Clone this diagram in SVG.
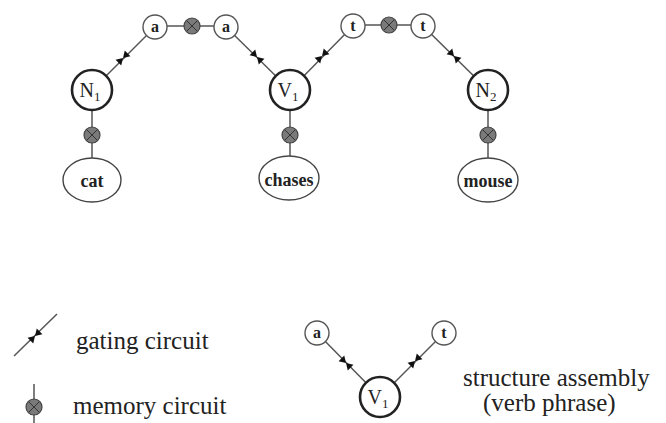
<svg xmlns="http://www.w3.org/2000/svg" width="666" height="423" viewBox="0 0 666 423">
<defs>
<style>
.ln{stroke:#555;stroke-width:1.5;fill:none}
.big{fill:#fff;stroke:#222;stroke-width:2.6}
.sm{fill:#fff;stroke:#555;stroke-width:1.4}
.ell{fill:#fff;stroke:#444;stroke-width:1.4}
.lbl{font-family:"Liberation Serif","Times New Roman",serif;fill:#222;text-anchor:middle}
.b{font-weight:bold}
.leg{font-family:"Liberation Serif","Times New Roman",serif;fill:#222;font-size:25px}
</style>
<g id="bowtie"><polygon points="-6.5,-4 0,0 -6.5,4" fill="#111"/><polygon points="6.5,-4 0,0 6.5,4" fill="#111"/></g>
<g id="mem"><circle r="8" fill="#7a7a7a" stroke="#444" stroke-width="1.2"/><path d="M-5,-5 L5,5 M-5,5 L5,-5" stroke="#333" stroke-width="1"/></g>
</defs>
<rect width="666" height="423" fill="#fff"/>
<g id="connectors">
<line class="ln" x1="92" y1="90" x2="155" y2="27"/>
<line class="ln" x1="155" y1="26" x2="226" y2="26"/>
<line class="ln" x1="226" y1="27" x2="290" y2="90"/>
<line class="ln" x1="290" y1="90" x2="353" y2="26"/>
<line class="ln" x1="353" y1="25" x2="423" y2="25"/>
<line class="ln" x1="423" y1="26" x2="488" y2="90"/>
<line class="ln" x1="92" y1="90" x2="92" y2="160"/>
<line class="ln" x1="290" y1="90" x2="290" y2="158"/>
<line class="ln" x1="488" y1="90" x2="488" y2="158"/>
<line class="ln" x1="317" y1="333" x2="380" y2="397"/>
<line class="ln" x1="380" y1="397" x2="444" y2="333"/>
<use href="#bowtie" transform="translate(123,58) rotate(-45)"/>
<use href="#bowtie" transform="translate(257,57) rotate(45)"/>
<use href="#bowtie" transform="translate(322,56) rotate(-45)"/>
<use href="#bowtie" transform="translate(454,56) rotate(45)"/>
<use href="#bowtie" transform="translate(346,363) rotate(45)"/>
<use href="#bowtie" transform="translate(415,361) rotate(-45)"/>
<use id="mem-a" href="#mem" transform="translate(192,26)"/>
<use id="mem-t" href="#mem" transform="translate(389,25)"/>
<use id="mem-cat" href="#mem" transform="translate(92,135)"/>
<use id="mem-chases" href="#mem" transform="translate(290,135)"/>
<use id="mem-mouse" href="#mem" transform="translate(488,135)"/>
</g>
<g id="node-N1"><circle class="big" cx="92" cy="90" r="20"/><text class="lbl" x="90" y="97" font-size="20">N<tspan font-size="13" dy="4">1</tspan></text></g>
<g id="node-a1"><circle class="sm" cx="155" cy="27" r="12"/><text class="lbl b" x="155" y="32" font-size="16">a</text></g>
<g id="node-a2"><circle class="sm" cx="226" cy="27" r="12"/><text class="lbl b" x="226" y="32" font-size="16">a</text></g>
<g id="node-V1"><circle class="big" cx="290" cy="90" r="20"/><text class="lbl" x="288" y="97" font-size="20">V<tspan font-size="13" dy="4">1</tspan></text></g>
<g id="node-t1"><circle class="sm" cx="353" cy="26" r="12"/><text class="lbl b" x="353" y="31" font-size="16">t</text></g>
<g id="node-t2"><circle class="sm" cx="423" cy="26" r="12"/><text class="lbl b" x="423" y="31" font-size="16">t</text></g>
<g id="node-N2"><circle class="big" cx="488" cy="90" r="20"/><text class="lbl" x="486" y="97" font-size="20">N<tspan font-size="13" dy="4">2</tspan></text></g>
<g id="node-cat"><ellipse class="ell" cx="92" cy="180" rx="29" ry="22"/><text class="lbl b" x="92" y="187" font-size="18">cat</text></g>
<g id="node-chases"><ellipse class="ell" cx="289" cy="178" rx="30" ry="22"/><text class="lbl b" x="289" y="186" font-size="18">chases</text></g>
<g id="node-mouse"><ellipse class="ell" cx="488" cy="180" rx="30" ry="22"/><text class="lbl b" x="488" y="187" font-size="18">mouse</text></g>
<g id="legend-gating"><line class="ln" x1="14" y1="356" x2="57" y2="314"/><use href="#bowtie" transform="translate(35,336) rotate(-45)"/><text class="leg" x="76" y="349">gating circuit</text></g>
<g id="legend-memory"><line class="ln" x1="34" y1="384" x2="34" y2="423"/><use href="#mem" transform="translate(34,407)"/><text class="leg" x="73" y="414">memory circuit</text></g>
<g id="legend-sa-a"><circle class="sm" cx="317" cy="333" r="12"/><text class="lbl b" x="317" y="338" font-size="16">a</text></g>
<g id="legend-sa-t"><circle class="sm" cx="444" cy="333" r="12"/><text class="lbl b" x="444" y="338" font-size="16">t</text></g>
<g id="legend-sa-V1"><circle class="big" cx="380" cy="397" r="20"/><text class="lbl" x="378" y="404" font-size="20">V<tspan font-size="13" dy="4">1</tspan></text></g>
<text class="leg" x="463" y="386">structure assembly</text>
<text class="leg" x="483" y="411">(verb phrase)</text>
</svg>
